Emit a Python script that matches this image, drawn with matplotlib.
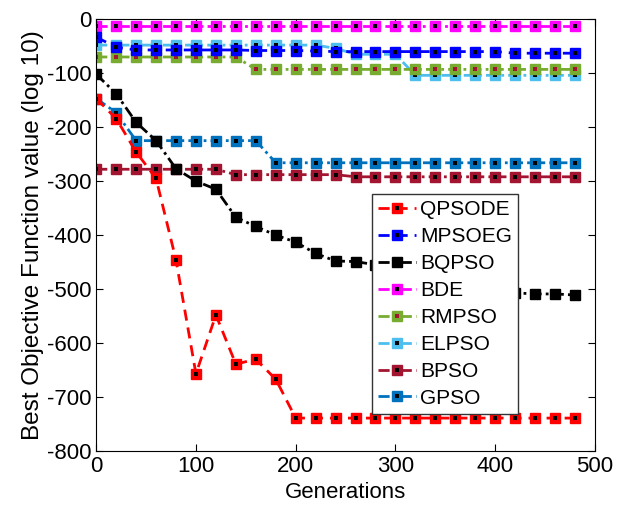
import matplotlib
matplotlib.use("Agg")
import matplotlib.pyplot as plt

plt.rcParams['font.family'] = ['Liberation Sans', 'DejaVu Sans']
plt.rcParams['axes.unicode_minus'] = False

generations = list(range(0, 500, 20))

qpsode = [-147, -184, -246, -295, -446, -657, -548, -639, -630, -667,
          -739, -739, -739, -739, -739, -739, -739, -739, -739, -739,
          -739, -739, -739, -739, -739]
mpsoeg = [-33, -52, -57, -57, -57, -57, -57, -57, -58, -58,
          -58, -59, -60, -60, -60, -60, -60, -60, -60, -60,
          -60, -63, -63, -63, -63]
bqpso = [-102, -138, -191, -225, -277, -300, -315, -367, -384, -400,
         -413, -434, -448, -449, -455, -465, -475, -485, -492, -498,
         -503, -507, -509, -509, -511]
bde = [-12] * 25
rmpso = [-70, -70, -70, -70, -70, -70, -70, -70, -93, -93,
         -93, -93, -93, -93, -93, -93, -93, -93, -93, -93,
         -93, -93, -93, -93, -93]
elpso = [-48, -48, -48, -48, -48, -48, -48, -48, -48, -48,
         -48, -48, -54, -65, -65, -65, -104, -104, -104, -104,
         -104, -104, -104, -104, -104]
bpso = [-278, -278, -278, -278, -278, -278, -278, -288, -288, -288,
        -288, -288, -288, -292, -292, -292, -292, -292, -292, -292,
        -292, -292, -292, -292, -292]
gpso = [-147, -173, -225, -225, -225, -225, -225, -225, -225, -266,
        -266, -266, -266, -266, -266, -266, -266, -266, -266, -266,
        -266, -266, -266, -266, -266]

names = ['QPSODE', 'MPSOEG', 'BQPSO', 'BDE', 'RMPSO', 'ELPSO', 'BPSO', 'GPSO']
series = [qpsode, mpsoeg, bqpso, bde, rmpso, elpso, bpso, gpso]
colors = ['#ff0000', '#0000ff', '#000000', '#ff00ff', '#77ac30', '#4dbeee', '#a2142f', '#0072bd']
dashed = (0, (4, 2.5))
dashdot = (0, (4, 1.5, 1, 1.5))
styles = [dashed, dashed, dashdot, dashdot, dashdot, dashdot, dashdot, dashdot]
dots = ['k', 'k', 'k', 'k', '#a2142f', 'k', 'k', 'k']

fig = plt.figure(figsize=(6.37, 5.19), dpi=100)
ax = fig.add_axes([0.151, 0.131, 0.783, 0.832])

# draw from last to first so QPSODE ends up on top
handles = {}
for name, vals, c, ls, d in reversed(list(zip(names, series, colors, styles, dots))):
    line, = ax.plot(generations, vals, linestyle=ls, color=c, lw=2, marker='s',
                    markersize=6.5, markerfacecolor=c, markeredgecolor=c)
    dot, = ax.plot(generations, vals, 's', color=d, markersize=2.6, markeredgewidth=0)
    handles[name] = (line, dot)

leg = ax.legend([handles[n] for n in names], names, loc='upper left',
                bbox_to_anchor=(0.553, 0.595), borderaxespad=0, fontsize=15,
                handlelength=1.8, handletextpad=0.2, labelspacing=0.38,
                fancybox=False, edgecolor='#333333', framealpha=1,
                borderpad=0.3)
leg.get_frame().set_linewidth(1)

ax.set_xlim(0, 500)
ax.set_ylim(-800, 0)
ax.set_xticks(range(0, 501, 100))
ax.set_yticks(range(-800, 1, 100))
ax.tick_params(direction='in', top=True, right=True, labelsize=16, length=5)
ax.set_xlabel('Generations', fontsize=16)
ax.set_ylabel('Best Objective Function value (log 10)', fontsize=17.5, labelpad=2)

fig.savefig('out.png', dpi=100)
